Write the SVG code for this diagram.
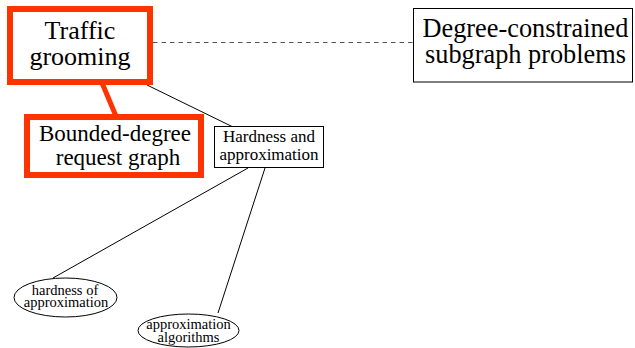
<svg xmlns="http://www.w3.org/2000/svg" width="635" height="348" viewBox="0 0 635 348">
  <style>
    .lbl { font-family: 'Liberation Serif', 'Times New Roman', Times, serif; text-anchor: middle; fill: #000; }
    .hl { fill: #fff; stroke: #ff3300; stroke-width: 6; }
    .box { fill: #fff; stroke: #000; stroke-width: 1; }
    .edge { stroke: #000; stroke-width: 1; fill: none; }
    .dash { stroke: #555; stroke-width: 1; stroke-dasharray: 4.5 4; fill: none; }
    .thick { stroke: #ff3300; stroke-width: 5; fill: none; }
  </style>

  <!-- connectors -->
  <g id="edges">
    <line class="dash" x1="153" y1="42.5" x2="413" y2="42.5"/>
    <line class="edge" x1="147" y1="85" x2="233" y2="127"/>
    <line class="thick" x1="102.5" y1="84" x2="115.5" y2="115"/>
    <line class="edge" x1="248" y1="168" x2="53" y2="278"/>
    <line class="edge" x1="265" y1="168" x2="218" y2="313"/>
  </g>

  <g id="traffic-grooming">
    <rect class="hl" x="10" y="9" width="140" height="73"/>
    <text class="lbl" x="80" y="39" font-size="26">Traffic</text>
    <text class="lbl" x="80" y="65" font-size="26">grooming</text>
  </g>

  <g id="bounded-degree">
    <rect class="hl" x="27" y="117" width="174" height="58"/>
    <text class="lbl" x="115" y="140.5" font-size="23">Bounded-degree</text>
    <text class="lbl" x="118" y="164.5" font-size="23">request graph</text>
  </g>

  <g id="degree-constrained">
    <rect class="box" x="413.5" y="8.5" width="219" height="73.5"/>
    <text class="lbl" x="525.5" y="37" font-size="26.3">Degree-constrained</text>
    <text class="lbl" x="525.5" y="63" font-size="26.3">subgraph problems</text>
  </g>

  <g id="hardness-approx">
    <rect class="box" x="214.5" y="126.5" width="109" height="41"/>
    <text class="lbl" x="269" y="142" font-size="17">Hardness and</text>
    <text class="lbl" x="269" y="160" font-size="17">approximation</text>
  </g>

  <g id="hardness-of-approximation">
    <ellipse class="box" cx="65.5" cy="297.5" rx="51.5" ry="19.5"/>
    <text class="lbl" x="65" y="294.5" font-size="14.5">hardness of</text>
    <text class="lbl" x="66" y="306.5" font-size="14.5">approximation</text>
  </g>

  <g id="approximation-algorithms">
    <ellipse class="box" cx="188.5" cy="330.5" rx="50.5" ry="16.5"/>
    <text class="lbl" x="188.5" y="329" font-size="14.5">approximation</text>
    <text class="lbl" x="188.5" y="341.5" font-size="14.5">algorithms</text>
  </g>
</svg>
